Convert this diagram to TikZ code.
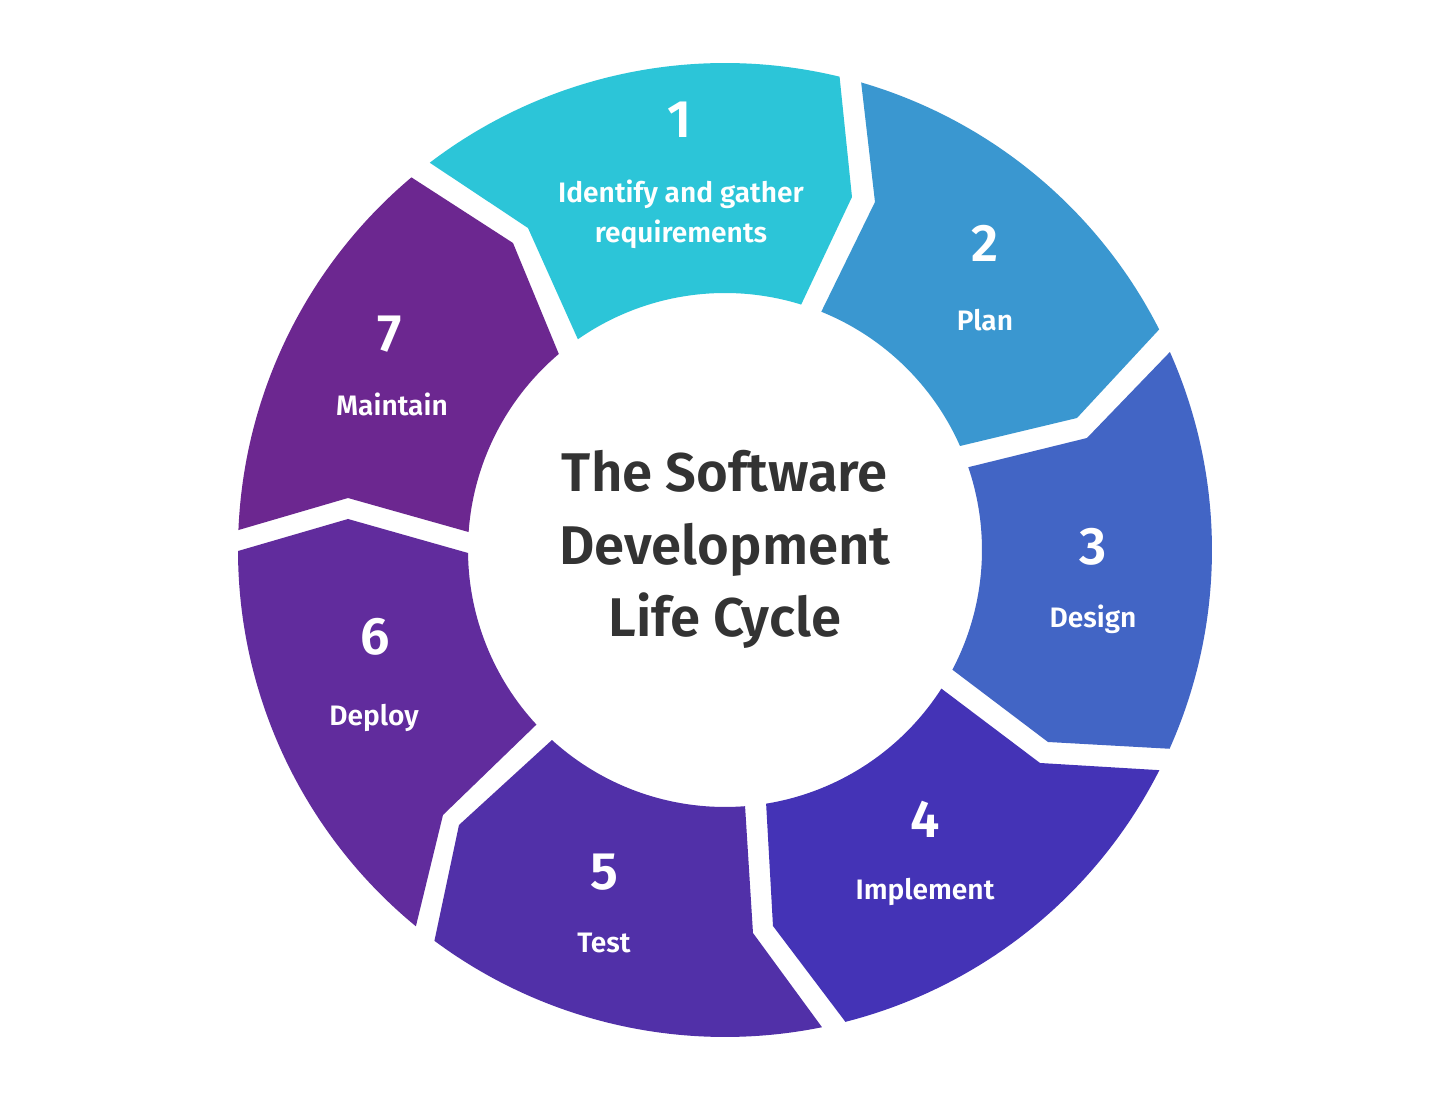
\documentclass[tikz,border=0pt]{standalone}
\usepackage{fontspec}
\setmainfont{Fira Sans}
\newfontfamily\semib{Fira Sans SemiBold}
\definecolor{c1}{HTML}{2CC5D8}
\definecolor{c2}{HTML}{3A97D0}
\definecolor{c3}{HTML}{4265C5}
\definecolor{c4}{HTML}{4433B6}
\definecolor{c5}{HTML}{5130A8}
\definecolor{c6}{HTML}{612C9D}
\definecolor{c7}{HTML}{6C2790}
\definecolor{titlegray}{HTML}{333333}
\begin{document}
\begin{tikzpicture}[x=0.01cm,y=0.01cm,
  num/.style={text=white,font=\semib\fontsize{15}{18}\selectfont,anchor=base,inner sep=0pt},
  lab/.style={text=white,font=\semib\fontsize{8}{10}\selectfont,anchor=base,inner sep=0pt},
  ttl/.style={text=titlegray,font=\semib\fontsize{15.5}{18}\selectfont,anchor=base,inner sep=0pt}]
\useasboundingbox[fill=white] (-725,-550) rectangle (725,550);
% segments
\fill[c1] (127.32:487) arc[start angle=127.32,end angle=76.39,radius=487] -- (127,353) -- (72.75:257) arc[start angle=72.75,end angle=124.92,radius=257] -- (-197,322) -- cycle;
\fill[c2] (73.76:487) arc[start angle=73.76,end angle=26.93,radius=487] -- (352,132) -- (23.87:257) arc[start angle=23.87,end angle=67.99,radius=257] -- (150,348) -- cycle;
\fill[c3] (23.99:487) arc[start angle=23.99,end angle=-24.09,radius=487] -- (323,-192) -- (-27.76:257) arc[start angle=-27.76,end angle=18.79,radius=257] -- (362,112) -- cycle;
\fill[c4] (-26.88:487) arc[start angle=-26.88,end angle=-75.68,radius=487] -- (48,-376) -- (-80.79:257) arc[start angle=-80.79,end angle=-32.64,radius=257] -- (315,-213) -- cycle;
\fill[c5] (-78.51:487) arc[start angle=-78.51,end angle=-126.63,radius=487] -- (-266,-275) -- (-132.32:257) arc[start angle=-132.32,end angle=-85.52,radius=257] -- (28,-383) -- cycle;
\fill[c6] (-129.40:487) arc[start angle=-129.40,end angle=-179.88,radius=487] -- (-377,31) -- (-179.33:257) arc[start angle=-179.33,end angle=-137.20,radius=257] -- (-282,-265) -- cycle;
\fill[c7] (177.65:487) arc[start angle=177.65,end angle=130.08,radius=487] -- (-212,307) -- (130.29:257) arc[start angle=130.29,end angle=175.99,radius=257] -- (-377,52) -- cycle;
% numbers and labels
\node[num] (n1) at (-45,412) {1};
\node[lab] (l1a) at (-44,347) {Identify and gather};
\node[lab] (l1b) at (-44,307) {requirements};
\node[num] (n2) at (260,288) {2};
\node[lab] (l2) at (260,219) {Plan};
\node[num] (n3) at (368,-15) {3};
\node[lab] (l3) at (368,-78) {Design};
\node[num] (n4) at (200,-288) {4};
\node[lab] (l4) at (200,-350) {Implement};
\node[num] (n5) at (-121,-340) {5};
\node[lab] (l5) at (-121,-403) {Test};
\node[num] (n6) at (-350,-105) {6};
\node[lab] (l6) at (-351,-176) {Deploy};
\node[num] (n7) at (-335,198) {7};
\node[lab] (l7) at (-333,134) {Maintain};
% title
\node[ttl] (t1) at (0,58) {The Software};
\node[ttl] (t2) at (0,-15) {Development};
\node[ttl] (t3) at (0,-87) {Life Cycle};
\end{tikzpicture}
\end{document}
